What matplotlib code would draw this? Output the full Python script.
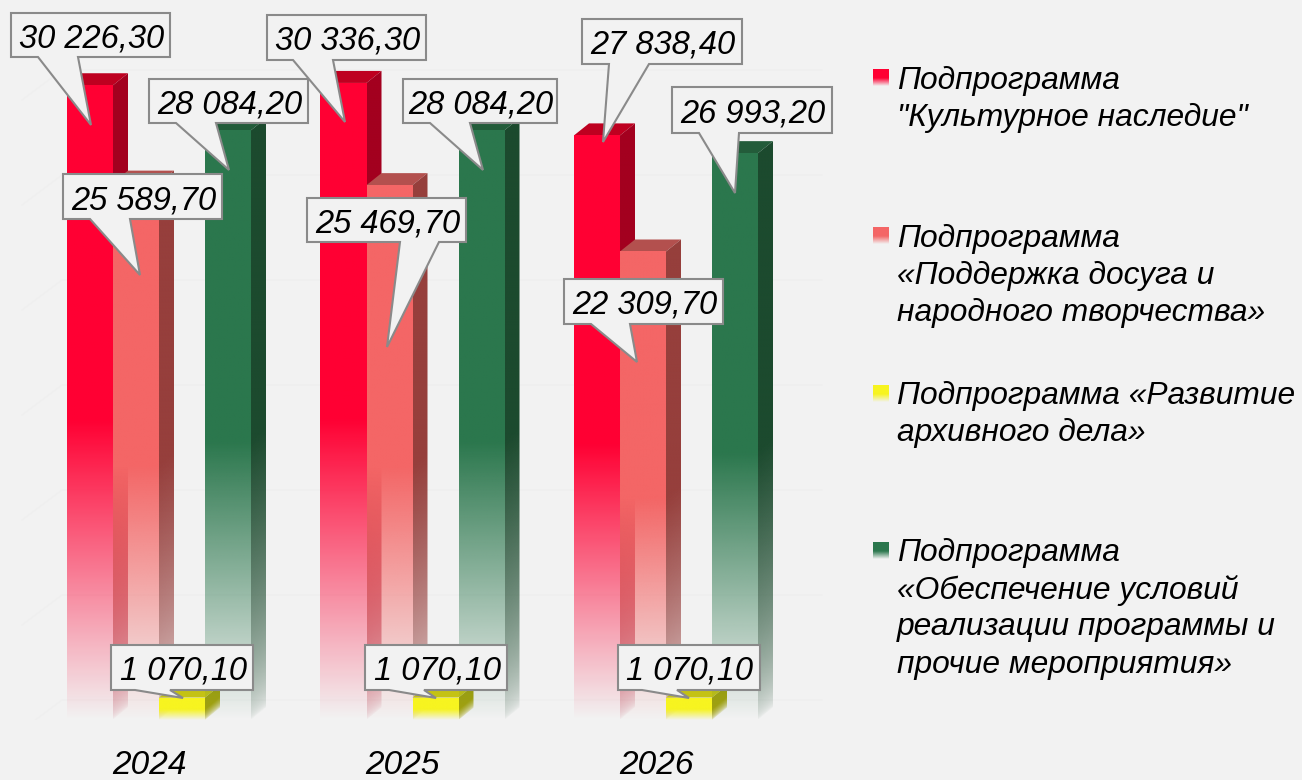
import numpy as np
import matplotlib
matplotlib.use("Agg")
import matplotlib.pyplot as plt
from matplotlib.colors import to_rgb
from matplotlib.patches import Polygon
from matplotlib.transforms import Affine2D

years = ["2024", "2025", "2026"]
culture = [30226.30, 30336.30, 27838.40]
leisure = [25589.70, 25469.70, 22309.70]
archive = [1070.10, 1070.10, 1070.10]
other = [28084.20, 28084.20, 26993.20]

legend_labels = [
    ['Подпрограмма', '"Культурное наследие"'],
    ['Подпрограмма', '«Поддержка досуга и', 'народного творчества»'],
    ['Подпрограмма «Развитие', 'архивного дела»'],
    ['Подпрограмма', '«Обеспечение условий', 'реализации программы и', 'прочие мероприятия»'],
]

series = [culture, leisure, archive, other]
# front, side, top
colors = [
    ("#FF0033", "#A3001F", "#BE0020"),
    ("#F46666", "#963F3C", "#B3504E"),
    ("#F7F420", "#A5A30E", "#C4C214"),
    ("#2B774D", "#1C4A2E", "#235C3A"),
]

BG = "#F2F2F2"
STEP = 253.5     # px between groups
LEFT = 159       # px of first group centre
BAR = 46         # px
DX, DY = 15, 12  # px of the 3d depth
SCALE = 0.021    # px per unit
FADE = 0.47      # part of the bar height that fades out

plt.rcParams["font.family"] = ["Liberation Sans", "DejaVu Sans"]
plt.rcParams["font.style"] = "italic"

fig = plt.figure(figsize=(13.02, 7.8), dpi=100, facecolor=BG)
ax = fig.add_axes([0, 60 / 780, 1, 720 / 780])
ax.set_facecolor("none")
ax.set_xlim(-LEFT / STEP, (1302 - LEFT) / STEP)
ax.set_ylim(0, 720 / SCALE)
ax.autoscale(False)
for s in ax.spines.values():
    s.set_visible(False)
ax.set_yticks([])
ax.set_xticks(np.arange(3) - 10 / STEP)
ax.set_xticklabels(years, fontsize=24, style="italic")
ax.tick_params(axis="x", length=0, pad=21.5)

px = Affine2D().scale(1, -1).translate(0, 780)
dx = DX / STEP
dy = DY / SCALE
w = BAR / STEP


def to_x(p):
    return (p - LEFT) / STEP


def face(x0, x1, top, slope, color, height, z, gamma=1.0):
    # slope: how far the bottom edge climbs from x0 to x1
    xs = np.linspace(0, 1, 40)
    ys = np.linspace(top + slope, 0, 500)
    xx, yy = np.meshgrid(xs, ys)
    alpha = np.clip((yy - slope * xx) / (height * FADE), 0, 1) ** gamma
    img = np.zeros(alpha.shape + (4,))
    img[..., :3] = to_rgb(color)
    img[..., 3] = alpha
    im = ax.imshow(img, extent=[x0, x1, 0, top + slope], aspect="auto",
                   interpolation="bilinear", zorder=z)
    poly = Polygon([(x0, 0), (x1, slope), (x1, top + slope), (x0, top)],
                   transform=ax.transData)
    im.set_clip_path(poly)


# faint grid of the 3d wall
for v in range(0, 35000, 5000):
    yv = v + 20 / SCALE
    ax.plot([to_x(22), to_x(62), to_x(822)], [yv - 30 / SCALE, yv, yv],
            color="#EFEFEF", lw=1, zorder=1)

z = 2
for g in range(len(years)):
    for i, vals in enumerate(series):
        v = vals[g]
        x0 = g - 2 * w + i * w
        front, side, top = colors[i]
        ax.fill([x0, x0 + dx, x0 + w + dx, x0 + w], [v, v + dy, v + dy, v],
                color=top, lw=0, zorder=z)
        face(x0 + w, x0 + w + dx, v, dy, side, v, z + 0.1, gamma=0.55)
        face(x0, x0 + w, v, 0, front, v, z + 0.2)
        z += 1

# callouts in px: box x0, y0, x1, y1, tail left, tail right, tip x, tip y
callouts = [
    (culture[0], 11, 13, 170, 57, 38, 78, 91, 125),
    (other[0], 149, 79, 308, 123, 176, 216, 229, 170),
    (leisure[0], 63, 174, 222, 219, 90, 130, 140, 275),
    (archive[0], 111, 645, 253, 690, 135, 170, 183, 698),
    (culture[1], 267, 15, 426, 60, 293, 333, 345, 122),
    (other[1], 403, 79, 557, 123, 430, 470, 483, 170),
    (leisure[1], 307, 198, 466, 242, 400, 439, 387, 347),
    (archive[1], 365, 645, 507, 690, 389, 424, 436, 698),
    (culture[2], 582, 19, 742, 64, 609, 649, 603, 142),
    (other[2], 672, 87, 832, 133, 699, 739, 735, 193),
    (leisure[2], 564, 279, 723, 324, 591, 630, 637, 362),
    (archive[2], 618, 645, 760, 690, 642, 677, 689, 698),
]
for v, bx0, by0, bx1, by1, t0, t1, tx, ty in callouts:
    ax.add_patch(Polygon([(bx0, by0), (bx1, by0), (bx1, by1), (t1, by1), (tx, ty), (t0, by1), (bx0, by1)],
                         closed=True, transform=px, facecolor=BG, edgecolor="#8A8A8A",
                         lw=1.5, joinstyle="miter", zorder=50, clip_on=False))
    label = f"{v:,.2f}".replace(",", " ").replace(".", ",")
    ax.text((bx0 + bx1) / 2 + 1, (by0 + by1) / 2 + 4, label, transform=px, fontsize=23.5, style="italic",
            ha="center", va="center", color="black", zorder=51)

# legend
swatch_y = [69, 227, 385, 542]
text_y = [81, 239, 396, 553]
for i, lines in enumerate(legend_labels):
    a = fig.add_axes([873 / 1302, 1 - (swatch_y[i] + 17) / 780, 16 / 1302, 17 / 780])
    a.axis("off")
    grad = np.zeros((17, 1, 4))
    grad[..., :3] = to_rgb(colors[i][0])
    grad[:, 0, 3] = np.clip((16.5 - np.arange(17)) / 8, 0, 1)
    a.imshow(grad, aspect="auto", interpolation="bilinear")
    for j, line in enumerate(lines):
        ax.text(897, text_y[i] + j * 37.2, line, transform=px, fontsize=22.9, style="italic",
                ha="left", va="center", color="black", zorder=51)

fig.savefig("out.png", dpi=100, facecolor=BG)
